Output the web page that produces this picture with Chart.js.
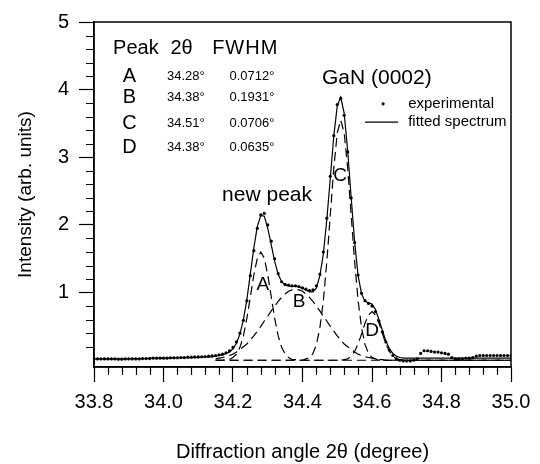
<!DOCTYPE html>
<html>
<head>
<meta charset="utf-8">
<script src="https://cdn.jsdelivr.net/npm/chart.js@4.4.0/dist/chart.umd.min.js"></script>
<style>
  html, body { margin: 0; padding: 0; background: #fff; }
</style>
</head>
<body>
<canvas id="xrdChart" width="540" height="464"></canvas>
<script>
// 2-theta grid of the scan
const angles = [
  33.80, 33.81, 33.82, 33.83, 33.84, 33.85, 33.86, 33.87, 33.88, 33.89,
  33.90, 33.91, 33.92, 33.93, 33.94, 33.95, 33.96, 33.97, 33.98, 33.99,
  34.00, 34.01, 34.02, 34.03, 34.04, 34.05, 34.06, 34.07, 34.08, 34.09,
  34.10, 34.11, 34.12, 34.13, 34.14, 34.15, 34.16, 34.17, 34.18, 34.19,
  34.20, 34.21, 34.22, 34.23, 34.24, 34.25, 34.26, 34.27, 34.28, 34.29,
  34.30, 34.31, 34.32, 34.33, 34.34, 34.35, 34.36, 34.37, 34.38, 34.39,
  34.40, 34.41, 34.42, 34.43, 34.44, 34.45, 34.46, 34.47, 34.48, 34.49,
  34.50, 34.51, 34.52, 34.53, 34.54, 34.55, 34.56, 34.57, 34.58, 34.59,
  34.60, 34.61, 34.62, 34.63, 34.64, 34.65, 34.66, 34.67, 34.68, 34.69,
  34.70, 34.71, 34.72, 34.73, 34.74, 34.75, 34.76, 34.77, 34.78, 34.79,
  34.80, 34.81, 34.82, 34.83, 34.84, 34.85, 34.86, 34.87, 34.88, 34.89,
  34.90, 34.91, 34.92, 34.93, 34.94, 34.95, 34.96, 34.97, 34.98, 34.99,
  35.00
];
const experimental = [
  0.02, 0.02, 0.02, 0.02, 0.02, 0.02, 0.02, 0.015, 0.015, 0.02,
  0.02, 0.02, 0.02, 0.02, 0.025, 0.025, 0.025, 0.03, 0.03, 0.03,
  0.03, 0.03, 0.035, 0.035, 0.035, 0.04, 0.04, 0.045, 0.045, 0.05,
  0.05, 0.05, 0.055, 0.06, 0.065, 0.07, 0.08, 0.09, 0.11, 0.14,
  0.19, 0.27, 0.40, 0.59, 0.88, 1.25, 1.62, 1.95, 2.15, 2.17,
  2.00, 1.76, 1.50, 1.28, 1.16, 1.12, 1.11, 1.10, 1.10, 1.09,
  1.07, 1.05, 1.03, 1.04, 1.10, 1.27, 1.60, 2.10, 2.72, 3.32,
  3.78, 3.87, 3.62, 3.08, 2.40, 1.74, 1.26, 0.99, 0.88, 0.84,
  0.80, 0.72, 0.58, 0.42, 0.27, 0.15, 0.07, 0.02, 0.00, -0.01,
  -0.01, -0.01, 0.00, 0.02, 0.10, 0.14, 0.14, 0.13, 0.12, 0.12,
  0.11, 0.10, 0.09, 0.04, 0.02, 0.02, 0.02, 0.03, 0.03, 0.04,
  0.06, 0.07, 0.07, 0.07, 0.07, 0.07, 0.07, 0.07, 0.07, 0.07,
  0.07
];
const fitted = [
  0.02, 0.02, 0.02, 0.02, 0.02, 0.02, 0.02, 0.02, 0.02, 0.02,
  0.025, 0.025, 0.025, 0.025, 0.025, 0.025, 0.03, 0.03, 0.03, 0.03,
  0.03, 0.03, 0.035, 0.035, 0.035, 0.035, 0.04, 0.04, 0.04, 0.04,
  0.04, 0.045, 0.045, 0.05, 0.05, 0.06, 0.07, 0.08, 0.10, 0.12,
  0.17, 0.25, 0.39, 0.60, 0.90, 1.28, 1.66, 1.98, 2.14, 2.13,
  1.95, 1.71, 1.46, 1.27, 1.16, 1.11, 1.10, 1.09, 1.10, 1.08,
  1.06, 1.04, 1.01, 1.01, 1.07, 1.25, 1.57, 2.08, 2.69, 3.31,
  3.76, 3.89, 3.65, 3.10, 2.41, 1.75, 1.25, 0.98, 0.87, 0.85,
  0.83, 0.75, 0.60, 0.44, 0.28, 0.17, 0.10, 0.06, 0.04, 0.03,
  0.03, 0.03, 0.03, 0.03, 0.03, 0.03, 0.03, 0.03, 0.03, 0.03,
  0.03, 0.03, 0.03, 0.03, 0.03, 0.03, 0.03, 0.03, 0.03, 0.03,
  0.03, 0.03, 0.03, 0.03, 0.03, 0.03, 0.03, 0.03, 0.03, 0.03,
  0.03
];

// fitted components A-D
const compAngles = [
  34.15, 34.16, 34.17, 34.18, 34.19,
  34.20, 34.21, 34.22, 34.23, 34.24, 34.25, 34.26, 34.27, 34.28, 34.29,
  34.30, 34.31, 34.32, 34.33, 34.34, 34.35, 34.36, 34.37, 34.38, 34.39,
  34.40, 34.41, 34.42, 34.43, 34.44, 34.45, 34.46, 34.47, 34.48, 34.49,
  34.50, 34.51, 34.52, 34.53, 34.54, 34.55, 34.56, 34.57, 34.58, 34.59,
  34.60, 34.61, 34.62, 34.63, 34.64, 34.65, 34.66, 34.67, 34.68, 34.69,
  34.70, 34.80, 34.90, 35.00
];
const peakA = [
  0, 0, 0, 0.01, 0.01,
  0.04, 0.09, 0.19, 0.36, 0.62, 0.94, 1.26, 1.51, 1.60, 1.51,
  1.26, 0.94, 0.62, 0.36, 0.19, 0.09, 0.04, 0.01, 0.01, 0,
  0, 0, 0, 0, 0, 0, 0, 0, 0, 0,
  0, 0, 0, 0, 0, 0, 0, 0, 0, 0,
  0, 0, 0, 0, 0, 0, 0, 0, 0, 0,
  0, 0, 0, 0
];
const peakB = [
  0.02, 0.03, 0.04, 0.05, 0.07,
  0.09, 0.12, 0.16, 0.20, 0.24, 0.30, 0.36, 0.43, 0.50, 0.58,
  0.65, 0.73, 0.80, 0.87, 0.93, 0.98, 1.02, 1.04, 1.05, 1.04,
  1.02, 0.98, 0.93, 0.87, 0.80, 0.73, 0.65, 0.58, 0.50, 0.43,
  0.36, 0.30, 0.24, 0.20, 0.16, 0.12, 0.09, 0.07, 0.05, 0.04,
  0.03, 0.02, 0.01, 0.01, 0, 0, 0, 0, 0, 0,
  0, 0, 0, 0
];
const peakC = [
  0, 0, 0, 0, 0,
  0, 0, 0, 0, 0, 0, 0, 0, 0, 0,
  0, 0, 0, 0, 0, 0, 0, 0, 0, 0,
  0, 0.02, 0.04, 0.10, 0.23, 0.48, 0.88, 1.46, 2.15, 2.84,
  3.36, 3.55, 3.36, 2.84, 2.15, 1.46, 0.88, 0.48, 0.23, 0.10,
  0.04, 0.02, 0, 0, 0, 0, 0, 0, 0, 0,
  0, 0, 0, 0
];
const peakD = [
  0, 0, 0, 0, 0,
  0, 0, 0, 0, 0, 0, 0, 0, 0, 0,
  0, 0, 0, 0, 0, 0, 0, 0, 0, 0,
  0, 0, 0, 0, 0, 0, 0, 0, 0, 0,
  0, 0, 0.01, 0.02, 0.06, 0.13, 0.24, 0.39, 0.55, 0.67,
  0.72, 0.67, 0.55, 0.39, 0.24, 0.13, 0.06, 0.02, 0.01, 0,
  0, 0, 0, 0
];

// fit table
const peakNames = ['A', 'B', 'C', 'D'];
const peakCentres = ['34.28°', '34.38°', '34.51°', '34.38°'];
const peakWidths = ['0.0712°', '0.1931°', '0.0706°', '0.0635°'];

const FONT = '"Liberation Sans", Arial, sans-serif';
const isMajorX = v => Math.abs(v * 5 - Math.round(v * 5)) < 1e-6;
const isMajorY = v => Math.abs(v - Math.round(v)) < 1e-6;
const pts = (xs, ys) => xs.map((x, i) => ({ x: x, y: ys[i] }));

const dashed = (data) => ({
  data: data,
  showLine: true,
  borderColor: '#000',
  borderWidth: 1.2,
  borderDash: [9, 5],
  pointRadius: 0
});

const decorations = {
  id: 'decorations',
  afterDatasetsDraw(chart) {
    const { ctx, chartArea: a, scales: { x, y } } = chart;
    const px = v => x.getPixelForValue(v);
    const py = v => y.getPixelForValue(v);
    ctx.save();
    ctx.strokeStyle = '#000';
    ctx.lineWidth = 1.5;
    ctx.strokeRect(a.left, a.top, a.right - a.left, a.bottom - a.top);

    // minor ticks
    ctx.lineWidth = 1.2;
    ctx.beginPath();
    x.ticks.forEach(t => {
      if (!isMajorX(t.value)) {
        const p = Math.round(px(t.value)) + 0.5;
        ctx.moveTo(p, a.bottom);
        ctx.lineTo(p, a.bottom + 8);
      }
    });
    y.ticks.forEach(t => {
      if (!isMajorY(t.value)) {
        const p = Math.round(py(t.value)) + 0.5;
        ctx.moveTo(a.left - 8, p);
        ctx.lineTo(a.left, p);
      }
    });
    ctx.stroke();

    ctx.fillStyle = '#000';
    ctx.textBaseline = 'middle';

    // table
    ctx.font = '20px ' + FONT;
    ctx.textAlign = 'left';
    ctx.fillText('Peak', px(33.855), py(4.61));
    ctx.fillText('2θ', px(34.02), py(4.61));
    ctx.letterSpacing = '1px';
    ctx.fillText('FWHM', px(34.14), py(4.61));
    ctx.letterSpacing = '0px';
    const rowY = [4.19, 3.88, 3.50, 3.15];
    peakNames.forEach((n, i) => {
      ctx.font = '20px ' + FONT;
      ctx.textAlign = 'center';
      ctx.fillText(n, px(33.902), py(rowY[i]));
      ctx.font = '13px ' + FONT;
      ctx.textAlign = 'left';
      ctx.fillText(peakCentres[i], px(34.01), py(rowY[i]));
      ctx.fillText(peakWidths[i], px(34.19), py(rowY[i]));
    });

    // peak labels
    ctx.font = '21px ' + FONT;
    ctx.textAlign = 'center';
    ctx.fillText('GaN (0002)', px(34.614), py(4.17));
    ctx.fillText('new peak', px(34.298), py(2.44));
    ctx.font = '19px ' + FONT;
    ctx.fillText('A', px(34.286), py(1.12));
    ctx.fillText('B', px(34.39), py(0.87));
    ctx.fillText('C', px(34.508), py(2.73));
    ctx.fillText('D', px(34.60), py(0.44));

    // legend
    ctx.beginPath();
    ctx.arc(px(34.632), py(3.79), 1.6, 0, Math.PI * 2);
    ctx.fill();
    ctx.lineWidth = 1.2;
    ctx.beginPath();
    ctx.moveTo(px(34.58), py(3.52));
    ctx.lineTo(px(34.675), py(3.52));
    ctx.stroke();
    ctx.font = '15px ' + FONT;
    ctx.textAlign = 'left';
    ctx.fillText('experimental', px(34.704), py(3.79));
    ctx.fillText('fitted spectrum', px(34.704), py(3.52));
    ctx.restore();
  }
};

new Chart(document.getElementById('xrdChart'), {
  type: 'scatter',
  data: {
    datasets: [
      {
        data: pts(angles, experimental),
        pointRadius: 1.6,
        pointBackgroundColor: '#000',
        pointBorderWidth: 0,
        showLine: false
      },
      {
        data: pts(angles, fitted),
        showLine: true,
        borderColor: '#000',
        borderWidth: 1.2,
        pointRadius: 0
      },
      dashed(pts(compAngles, peakA)),
      dashed(pts(compAngles, peakB)),
      dashed(pts(compAngles, peakC)),
      dashed(pts(compAngles, peakD))
    ]
  },
  options: {
    responsive: false,
    animation: false,
    layout: { padding: { top: 15, right: 29, left: 0, bottom: 0 } },
    plugins: {
      legend: { display: false },
      tooltip: { enabled: false }
    },
    scales: {
      x: {
        type: 'linear',
        min: 33.8,
        max: 35.0,
        border: { color: '#000', width: 1.5 },
        grid: {
          drawOnChartArea: false,
          tickLength: 15,
          tickWidth: 1.2,
          tickColor: c => (c.tick && isMajorX(c.tick.value)) ? '#000' : 'rgba(0,0,0,0)'
        },
        ticks: {
          stepSize: 0.04,
          autoSkip: false,
          maxRotation: 0,
          padding: 8,
          color: '#000',
          font: { family: FONT, size: 20 },
          callback: v => isMajorX(v) ? v.toFixed(1) : ''
        },
        title: {
          display: true,
          text: 'Diffraction angle 2θ (degree)',
          color: '#000',
          font: { family: FONT, size: 20 },
          padding: { top: 0, bottom: 0 }
        },
        afterFit: s => { s.height = 97; }
      },
      y: {
        type: 'linear',
        min: -0.1,
        max: 5,
        border: { color: '#000', width: 1.5 },
        grid: {
          drawOnChartArea: false,
          tickLength: 15,
          tickWidth: 1.2,
          tickColor: c => (c.tick && isMajorY(c.tick.value)) ? '#000' : 'rgba(0,0,0,0)'
        },
        ticks: {
          stepSize: 0.2,
          autoSkip: false,
          padding: 10,
          color: '#000',
          font: { family: FONT, size: 20 },
          callback: v => isMajorY(v) ? String(Math.round(v)) : ''
        },
        afterBuildTicks: s => { s.ticks = s.ticks.filter(t => t.value > -0.05); },
        title: {
          display: true,
          text: 'Intensity (arb. units)',
          color: '#000',
          font: { family: FONT, size: 19 },
          padding: { top: 14, bottom: 0 }
        },
        afterFit: s => { s.width = 94; }
      }
    }
  },
  plugins: [decorations]
});
</script>
</body>
</html>
